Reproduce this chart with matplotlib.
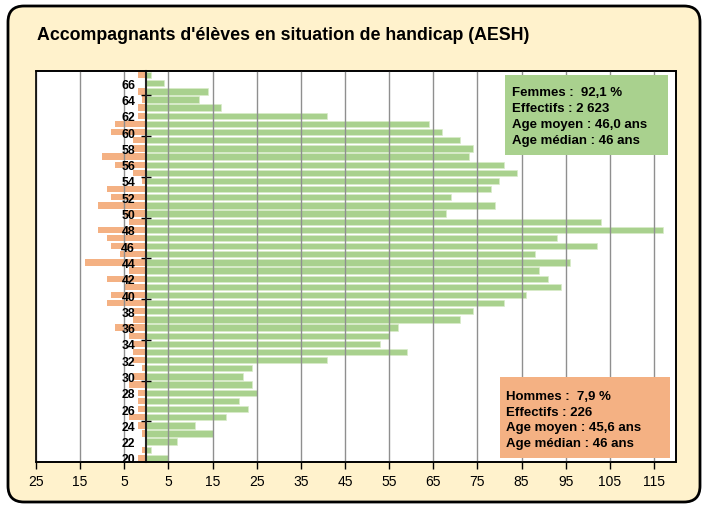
import matplotlib
matplotlib.use("Agg")
import matplotlib.pyplot as plt
from matplotlib.patches import FancyBboxPatch, Rectangle
import numpy as np

plt.rcParams['font.family'] = ['Liberation Sans', 'DejaVu Sans']

ages = list(range(20, 68))
# values listed from age 20 to age 67
femmes = [5, 1, 7, 15, 11, 18, 23, 21, 25, 24,
          22, 24, 41, 59, 53, 55, 57, 71, 74, 81,
          86, 94, 91, 89, 96, 88, 102, 93, 117, 103,
          68, 79, 69, 78, 80, 84, 81, 73, 74, 71,
          67, 64, 41, 17, 12, 14, 4, 1]
hommes = [2, 1, 0, 1, 2, 4, 2, 2, 2, 4,
          3, 1, 3, 3, 3, 4, 7, 3, 3, 9,
          8, 5, 9, 4, 14, 6, 8, 9, 11, 4,
          5, 11, 8, 9, 1, 3, 7, 10, 3, 3,
          8, 7, 2, 2, 1, 2, 0, 2]
age_labels = list(range(20, 67, 2))
x_ticks = [-25, -15, -5, 5, 15, 25, 35, 45, 55, 65, 75, 85, 95, 105, 115]

title = "Accompagnants d'élèves en situation de handicap (AESH)"
texte_femmes = ["Femmes :  92,1 %", "Effectifs : 2 623",
                "Age moyen : 46,0 ans", "Age médian : 46 ans"]
texte_hommes = ["Hommes :  7,9 %", "Effectifs : 226",
                "Age moyen : 45,6 ans", "Age médian : 46 ans"]

GREEN = '#A9D18E'
ORANGE = '#F4B183'
CREAM = '#FFF2CC'

fig = plt.figure(figsize=(7.07, 5.10), dpi=100)
fig.patch.set_facecolor('white')

frame = FancyBboxPatch((0.08, 0.07), 6.92, 4.96,
                       boxstyle="round,pad=0,rounding_size=0.16",
                       transform=fig.dpi_scale_trans, facecolor=CREAM,
                       edgecolor='black', linewidth=2, zorder=0)
fig.patches.append(frame)

fig.text(37 / 707, 1 - 35 / 510, title, fontsize=12.8, fontweight='bold',
         ha='left', va='center', zorder=3)

ax = fig.add_axes([36 / 707, 1 - 463 / 510, 640 / 707, 391 / 510])
ax.set_zorder(2)
ax.set_facecolor('white')

ax.barh(ages, [-h for h in hommes], height=0.78, color=ORANGE, zorder=2)
ax.barh(ages, femmes, height=0.78, color=GREEN, edgecolor='#d9ecc9',
        linewidth=0.5, zorder=2)

ax.set_xlim(-25, 120)
ax.set_ylim(19.5, 67.5)

ax.set_xticks(x_ticks)
ax.set_xticklabels([str(abs(v)) for v in x_ticks], fontsize=10)
ax.tick_params(axis='x', direction='out', length=5, width=1, color='black', pad=4)
ax.xaxis.grid(True, color='#8f8f8f', linewidth=1)
ax.set_axisbelow(False)
for gl in ax.get_xgridlines():
    gl.set_zorder(3)

ax.spines['left'].set_position(('data', 0))
ax.spines['left'].set_linewidth(1.5)
ax.spines['left'].set_color('#222222')
ax.spines['left'].set_zorder(4)
ax.set_yticks(age_labels)
ax.set_yticklabels([str(a) for a in age_labels], fontsize=8.8, fontweight='bold')
ax.tick_params(axis='y', which='major', length=0, pad=8)
ax.set_yticks(np.arange(24.5, 65, 5), minor=True)
ax.tick_params(axis='y', which='minor', direction='inout', length=7, width=1,
               color='black')
for lab in ax.get_yticklabels():
    lab.set_zorder(5)

for s in ['top', 'right', 'bottom']:
    ax.spines[s].set_color('black')
    ax.spines[s].set_linewidth(1.2)
ax.add_patch(Rectangle((0, 0), 1, 1, transform=ax.transAxes, fill=False,
                       edgecolor='black', linewidth=1.2, zorder=6, clip_on=False))

# info boxes
ax.add_patch(Rectangle((0.733, 0.785), 0.2545, 0.205, transform=ax.transAxes,
                       facecolor=GREEN, edgecolor='none', zorder=7))
for i, t in enumerate(texte_femmes):
    ax.text(0.744, 0.946 - i * 0.041, t, transform=ax.transAxes, fontsize=9.5,
            fontweight='bold', ha='left', va='center', zorder=8)

ax.add_patch(Rectangle((0.725, 0.010), 0.266, 0.207, transform=ax.transAxes,
                       facecolor=ORANGE, edgecolor='none', zorder=7))
for i, t in enumerate(texte_hommes):
    ax.text(0.734, 0.169 - i * 0.040, t, transform=ax.transAxes, fontsize=9.5,
            fontweight='bold', ha='left', va='center', zorder=8)

fig.savefig('out.png', dpi=100, facecolor=fig.get_facecolor())
